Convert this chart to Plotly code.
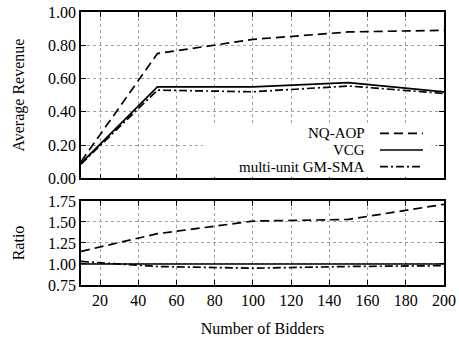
import plotly.graph_objects as go

bidders = [10, 50, 100, 150, 200]
rev_nqaop = [0.10, 0.75, 0.835, 0.88, 0.89]
rev_vcg = [0.09, 0.55, 0.55, 0.575, 0.52]
rev_gmsma = [0.085, 0.53, 0.52, 0.555, 0.51]
ratio_nqaop = [1.15, 1.36, 1.51, 1.53, 1.71]
ratio_vcg = [1.0, 1.0, 1.0, 1.0, 1.0]
ratio_gmsma = [1.03, 0.97, 0.95, 0.97, 0.98]
names = ["NQ-AOP", "VCG", "multi-unit GM-SMA"]
dashes = ["9px,5px", "solid", "8px,3px,2px,3px"]

FONT = "Liberation Serif"
FS = 16
fig = go.Figure()
for vals, nm, d in zip([rev_nqaop, rev_vcg, rev_gmsma], names, dashes):
    fig.add_trace(go.Scatter(x=bidders, y=vals, mode="lines", name=nm,
                             line=dict(color="black", width=1.7, dash=d),
                             xaxis="x", yaxis="y", showlegend=False))
for vals, nm, d in zip([ratio_nqaop, ratio_vcg, ratio_gmsma], names, dashes):
    fig.add_trace(go.Scatter(x=bidders, y=vals, mode="lines", name=nm,
                             line=dict(color="black", width=1.7, dash=d),
                             xaxis="x2", yaxis="y2", showlegend=False))

axcommon = dict(showline=True, linecolor="black", linewidth=1.5, mirror="allticks",
                ticks="inside", ticklen=5, tickcolor="black", showgrid=True,
                gridcolor="#a0a0a0", griddash="dot", gridwidth=1, zeroline=False,
                automargin=False,
                tickfont=dict(family=FONT, size=FS, color="black"))

fig.update_layout(
    width=459, height=337,
    margin=dict(l=81, r=15, t=12, b=52),
    plot_bgcolor="white", paper_bgcolor="white",
    font=dict(family=FONT, size=FS, color="black"),
    xaxis=dict(domain=[0, 1], range=[10, 200], tickvals=list(range(20, 201, 20)),
               showticklabels=False, anchor="y", **axcommon),
    yaxis=dict(domain=[0.391, 1], range=[0, 1], tickvals=[0, 0.2, 0.4, 0.6, 0.8, 1.0],
               tickformat=".2f", anchor="x",
               title=dict(text="Average Revenue", font=dict(family=FONT, size=FS), standoff=19),
               **axcommon),
    xaxis2=dict(domain=[0, 1], range=[10, 200], tickvals=list(range(20, 201, 20)),
                anchor="y2",
                title=dict(text="Number of Bidders", font=dict(family=FONT, size=FS), standoff=15),
                **axcommon),
    yaxis2=dict(domain=[0, 0.308], range=[0.75, 1.75], tickvals=[0.75, 1.0, 1.25, 1.5, 1.75],
                tickformat=".2f", anchor="x2",
                title=dict(text="Ratio", font=dict(family=FONT, size=FS), standoff=19),
                **axcommon),
)

# legend box (opaque, hides grid) with text left of line samples
fig.add_shape(type="rect", xref="x", yref="y", x0=74, x1=193.5, y0=0.006, y1=0.32,
              fillcolor="white", line=dict(width=0), layer="above")
legend_y = [0.27, 0.17, 0.07]
for nm, d, yy in zip(names, dashes, legend_y):
    fig.add_annotation(x=159.7, y=yy, xref="x", yref="y", text=nm, showarrow=False,
                       xanchor="right", yanchor="middle",
                       font=dict(family=FONT, size=15, color="black"))
    fig.add_shape(type="line", xref="x", yref="y", x0=166.5, x1=189, y0=yy, y1=yy,
                  line=dict(color="black", width=1.7, dash=d), layer="above")

fig.write_html("out.html", config={"displayModeBar": False},
               post_script="document.body.style.margin='0';document.body.style.overflow='hidden';")
